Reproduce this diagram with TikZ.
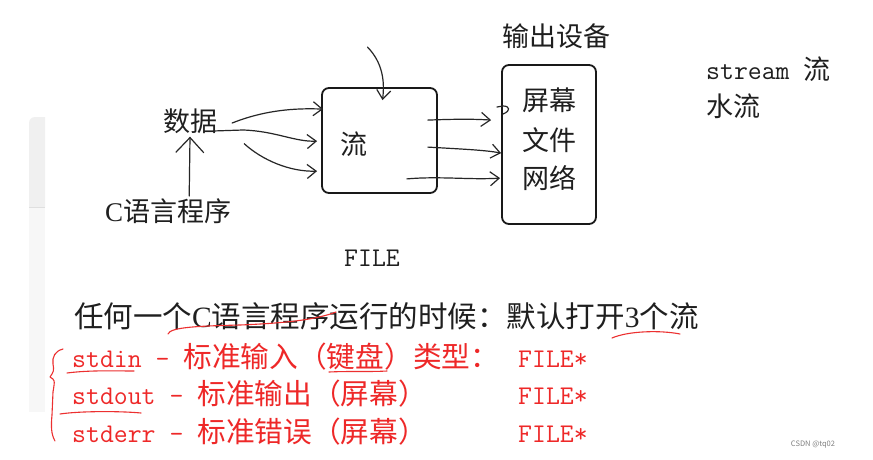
\documentclass[tikz,border=0pt]{standalone}
\usepackage{fontspec}
\setmainfont{Noto Sans CJK SC}
\newfontfamily\lser{Liberation Serif}
\usetikzlibrary{arrows.meta,calc}
\definecolor{hred}{RGB}{236,48,48}
\definecolor{tred}{RGB}{238,40,40}
\definecolor{panA}{RGB}{240,240,240}
\definecolor{panB}{RGB}{247,247,247}
\newcommand{\mymono}[1]{{\fontsize{27}{30}\selectfont\ttfamily #1}}
\begin{document}
\begin{tikzpicture}[x=1pt,y=-1pt,
  txt/.style={inner sep=0pt, font=\fontsize{27}{30}\selectfont, text=black!88},
  bigtxt/.style={inner sep=0pt, font=\fontsize{29.5}{32}\selectfont, text=black!88},
  rtxt/.style={inner sep=0pt, font=\fontsize{28.7}{32}\selectfont, text=tred},
  box/.style={draw=black!90, line width=1.8pt, rounded corners=7pt, inner sep=0pt},
  hand/.style={line width=1.2pt, black!85, line cap=round, line join=round},
  harrow/.style={hand, -{Straight Barb[length=9pt,width=14pt]}},
  redhand/.style={line width=1.1pt, hred, line cap=round, line join=round}]
\useasboundingbox (0,0) rectangle (873,460);
\fill[white] (0,0) rectangle (873,460);
% left grey panel
\fill[panB] (29,207) rectangle (45,412);
\fill[panA] (29,207) [rounded corners=6pt] -- (29,117) [sharp corners] -- (45,117) -- (45,207) -- cycle;
\draw[gray!25, line width=0.6pt] (29,207) -- (45,207);

% texts
\node[txt] (data) at (190,121) {数据};
\node[txt, anchor=base west] (cprog) at (105,221) {{\lser C}语言程序};
\node[box, minimum width=115pt, minimum height=105pt] (flow) at (379.5,140.5) {};
\node[txt] (liu) at (354,144) {流};
\node[box, minimum width=94pt, minimum height=159pt] (out) at (549,144.5) {};
\node[txt] (s1) at (549,100) {屏幕};
\node[txt] (s2) at (549,140) {文件};
\node[txt] (s3) at (549,178) {网络};
\node[txt, anchor=base west] (dev) at (502,47) {输出设备};
\node[txt, anchor=base west] (st) at (706,80) {{\ttfamily stream }流};
\node[txt, anchor=base west] (water) at (706,116) {水流};
\node[txt, anchor=base] (file) at (372,266) {\ttfamily FILE};
\node[bigtxt, anchor=base west] (any) at (74,327) {任何一个{\lser C}语言程序运行的时候：默认打开{\lser 3}个流};
\node[rtxt, anchor=base west] (l1) at (72,367) {\mymono{stdin - }标准输入（键盘）类型：};
\node[rtxt, anchor=base west] (f1) at (518,367) {\mymono{FILE*}};
\node[rtxt, anchor=base west] (l2) at (72,404) {\mymono{stdout - }标准输出（屏幕）};
\node[rtxt, anchor=base west] (f2) at (518,404) {\mymono{FILE*}};
\node[rtxt, anchor=base west] (l3) at (72,442) {\mymono{stderr - }标准错误（屏幕）};
\node[rtxt, anchor=base west] (f3) at (518,442) {\mymono{FILE*}};
\node[inner sep=0pt, font=\fontsize{7.5}{9}\selectfont, text=black!50] (mark) at (813,445) {CSDN @tq02};

% hand-drawn arrows into the stream box
\draw[harrow] ($(data.east)+(15,2)$) .. controls (265,110) and (295,108) .. ($(flow.north west)+(2,22)$);
\draw[harrow] ($(data.east)+(-4,10)$) -- (243,130) .. controls (275,131) and (295,142) .. ($(flow.north west)+(-4,54)$);
\draw[harrow] ($(data.south east)+(27,10)$) .. controls (262,160) and (290,172) .. ($(flow.north west)+(-4,84)$);
\draw[harrow] ($(flow.north)+(-12,-40)$) .. controls (382,62) and (385,80) .. ($(flow.north)+(3,13)$);
% arrow from C program up to data
\draw[harrow, -{Straight Barb[length=15pt,width=28pt]}] ($(cprog.north)+(21,-2)$) -- ($(data.south)+(0,3)$);
% arrows out of the stream box
\draw[harrow] ($(flow.north east)+(-10,33)$) .. controls (455,119) and (475,119) .. ($(out.north west)+(-10,56)$);
\draw[hand] (497,107) -- (503,106) .. controls (510,106) and (511,111) .. (503,114);
\draw[harrow] ($(flow.north east)+(-10,60)$) .. controls (460,149) and (485,150) .. ($(out.north west)+(0,89)$);
\draw[harrow] ($(flow.south east)+(-31,-15)$) .. controls (440,176) and (470,180) .. ($(out.north west)+(-1,114)$);

% red annotations
\draw[redhand] (63,349) .. controls (55,351) and (52,357) .. (53,364) .. controls (54,371) .. (50,377) .. controls (55,380) .. (53,392) -- (52,415) .. controls (51,426) and (51,434) .. (55,441);
\draw[redhand] (168,334) .. controls (170,327) and (200,326) .. (240,325) .. controls (290,323) and (318,319) .. (336,312);
\draw[redhand] (612,338) .. controls (628,331) and (660,330) .. (680,334);
\draw[redhand] (67,373) .. controls (90,370) and (115,371) .. (134,371);
\draw[redhand] (329,372) .. controls (350,371) and (370,372) .. (387,371);
\draw[redhand] (60,414) .. controls (80,411) and (120,411) .. (141,413);
\end{tikzpicture}
\end{document}
